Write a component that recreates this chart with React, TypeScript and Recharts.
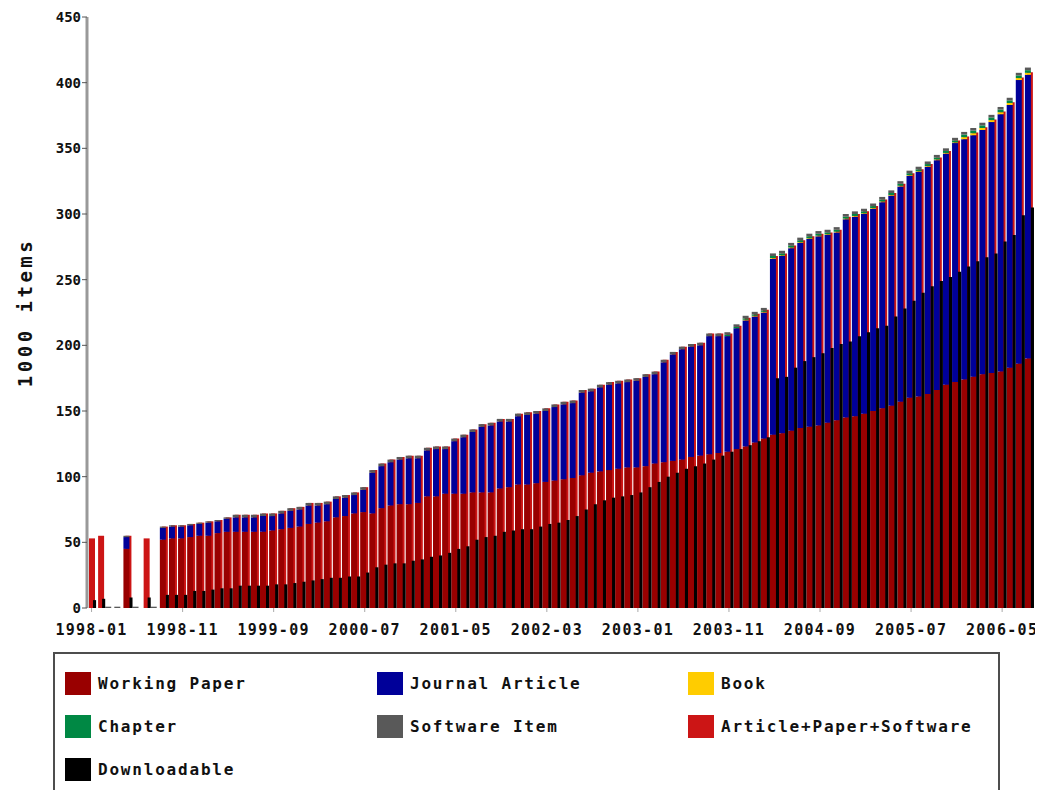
import { BarChart, Bar, XAxis, YAxis } from 'recharts';

// months 1998-01 .. 2006-08
const months = [
  '1998-01', '1998-02', '1998-03', '1998-04', '1998-05', '1998-06', '1998-07', '1998-08', '1998-09', '1998-10', '1998-11', '1998-12',
  '1999-01', '1999-02', '1999-03', '1999-04', '1999-05', '1999-06', '1999-07', '1999-08', '1999-09', '1999-10', '1999-11', '1999-12',
  '2000-01', '2000-02', '2000-03', '2000-04', '2000-05', '2000-06', '2000-07', '2000-08', '2000-09', '2000-10', '2000-11', '2000-12',
  '2001-01', '2001-02', '2001-03', '2001-04', '2001-05', '2001-06', '2001-07', '2001-08', '2001-09', '2001-10', '2001-11', '2001-12',
  '2002-01', '2002-02', '2002-03', '2002-04', '2002-05', '2002-06', '2002-07', '2002-08', '2002-09', '2002-10', '2002-11', '2002-12',
  '2003-01', '2003-02', '2003-03', '2003-04', '2003-05', '2003-06', '2003-07', '2003-08', '2003-09', '2003-10', '2003-11', '2003-12',
  '2004-01', '2004-02', '2004-03', '2004-04', '2004-05', '2004-06', '2004-07', '2004-08', '2004-09', '2004-10', '2004-11', '2004-12',
  '2005-01', '2005-02', '2005-03', '2005-04', '2005-05', '2005-06', '2005-07', '2005-08', '2005-09', '2005-10', '2005-11', '2005-12',
  '2006-01', '2006-02', '2006-03', '2006-04', '2006-05', '2006-06', '2006-07', '2006-08',
];

// values in 1000 items
const workingPaper = [
  0, 0, 0, 0, 45, 0, 0, 0, 52, 53, 53, 54,
  55, 55, 57, 58, 58, 58, 58, 58, 59, 60, 61, 62,
  64, 65, 66, 69, 70, 72, 73, 72, 76, 78, 79, 79,
  80, 85, 85, 87, 87, 87, 88, 88, 88, 91, 92, 94,
  94, 95, 96, 97, 98, 99, 101, 103, 104, 105, 106, 107,
  107, 108, 110, 111, 112, 113, 115, 116, 117, 118, 119, 121,
  123, 126, 129, 132, 133, 135, 137, 138, 139, 141, 143, 145,
  146, 148, 150, 152, 154, 157, 160, 161, 163, 166, 170, 172,
  174, 176, 178, 179, 180, 183, 186, 190,
];
const journalArticle = [
  0, 0, 0, 0, 9, 0, 0, 0, 9, 9, 9, 9,
  9, 10, 9, 10, 11, 11, 11, 12, 11, 12, 13, 13,
  14, 13, 13, 14, 14, 14, 17, 31, 32, 33, 34, 35,
  34, 35, 36, 34, 40, 43, 46, 50, 51, 51, 50, 52,
  53, 53, 54, 56, 57, 57, 63, 62, 64, 65, 65, 65,
  66, 68, 68, 76, 81, 84, 84, 84, 90, 89, 88, 92,
  96, 96, 96, 134, 135, 139, 141, 143, 144, 143, 143, 151,
  152, 152, 154, 157, 160, 164, 169, 171, 173, 175, 176, 182,
  183, 184, 186, 191, 196, 200, 216, 216,
];
const book = [
  0, 0, 0, 0, 0, 0, 0, 0, 0, 0, 0, 0,
  0, 0, 0, 0, 0, 0, 0, 0, 0, 0, 0, 0,
  0, 0, 0, 0, 0, 0, 0, 0, 0, 0, 0, 0,
  0, 0, 0, 0, 0, 0, 0, 0, 0, 0, 0, 0,
  0, 0, 0, 0, 0, 0, 0, 0, 0, 0, 0, 0,
  0, 0, 0, 0, 0, 0, 0, 0, 0, 0, 0, 0,
  0.5, 0.5, 0.5, 0.5, 0.5, 0.5, 0.5, 0.5, 0.5, 0.5, 0.5, 0.5,
  0.5, 0.5, 0.5, 0.5, 0.5, 0.5, 0.5, 0.5, 0.5, 0.5, 0.5, 0.5,
  1.5, 1.5, 1.5, 1.5, 1.5, 1.5, 1.5, 1.5,
];
const chapter = [
  0, 0, 0, 0, 0, 0, 0, 0, 0, 0, 0, 0,
  0, 0, 0, 0, 0, 0, 0, 0, 0, 0, 0, 0,
  0, 0, 0, 0, 0, 0, 0, 0, 0, 0, 0, 0,
  0, 0, 0, 0, 0, 0, 0, 0, 0, 0, 0, 0,
  0, 0, 0, 0, 0, 0, 0, 0, 0, 0, 0, 0,
  0, 0, 0, 0, 0, 0, 0, 0, 0, 0, 1, 1,
  1, 1, 1, 1.5, 1.5, 1.5, 1.5, 1.5, 1.5, 1.5, 1.5, 1.5,
  1.5, 1.5, 1.5, 1.5, 1.5, 1.5, 1.5, 1.5, 1.5, 1.5, 1.5, 1.5,
  2, 2, 2, 2, 2, 2, 2, 2,
];
const software = [
  0, 0, 1, 1, 1, 1, 0, 1, 1, 1, 1, 1,
  1, 1, 1, 1, 2, 2, 2, 2, 2, 2, 2, 2,
  2, 2, 2, 2, 2, 2, 2, 2, 2, 2, 2, 2,
  2, 2, 2, 2, 2, 2, 2, 2, 2, 2, 2, 2,
  2, 2, 2, 2, 2, 2, 2, 2, 2, 2, 2, 2,
  2, 2, 2, 2, 2, 2, 2, 2, 2, 2, 2, 2,
  2, 2, 2, 2, 2, 2, 2, 2, 2, 2, 2, 2,
  2, 2, 2, 2, 2, 2, 2, 2, 2, 2, 2, 2,
  2, 2, 2, 2, 2, 2, 2, 2,
];
const articlePaperSoftware = [
  53, 55, 0, 0, 55, 0, 53, 0, 62, 63, 63, 64,
  65, 66, 67, 69, 71, 71, 71, 72, 72, 74, 76, 77,
  80, 80, 81, 85, 86, 88, 92, 105, 110, 113, 115, 116,
  116, 122, 123, 123, 129, 132, 136, 140, 141, 144, 144, 148,
  149, 150, 152, 155, 157, 158, 166, 167, 170, 172, 173, 174,
  175, 178, 180, 189, 195, 199, 201, 202, 209, 209, 209, 215,
  221, 224, 227, 268, 270, 276, 280, 283, 285, 286, 288, 298,
  300, 302, 306, 311, 316, 323, 331, 334, 338, 343, 348, 356,
  359, 362, 366, 372, 378, 385, 404, 408,
];
const downloadable = [
  6, 7, 0, 0, 8, 0, 8, 0, 10, 10, 10, 13,
  13, 14, 15, 15, 17, 17, 17, 17, 18, 18, 19, 20,
  21, 22, 23, 23, 24, 24, 27, 31, 33, 34, 34, 36,
  37, 39, 40, 42, 45, 47, 52, 54, 55, 58, 59, 60,
  60, 62, 64, 65, 67, 70, 75, 79, 82, 84, 85, 86,
  88, 92, 96, 100, 103, 106, 108, 110, 113, 116, 119, 121,
  124, 127, 130, 175, 176, 183, 188, 191, 194, 198, 201, 203,
  207, 210, 213, 215, 222, 228, 234, 240, 245, 249, 252, 256,
  260, 264, 267, 270, 279, 284, 299, 305,
];

const yTicks = [0, 50, 100, 150, 200, 250, 300, 350, 400, 450];

const legendItems = [
  { name: 'Working Paper', color: '#990000' },
  { name: 'Journal Article', color: '#000099' },
  { name: 'Book', color: '#ffcc00' },
  { name: 'Chapter', color: '#008844' },
  { name: 'Software Item', color: '#595959' },
  { name: 'Article+Paper+Software', color: '#cc1515' },
  { name: 'Downloadable', color: '#000000' },
];

const data = months.map((m, i) => ({
  month: m,
  wp: workingPaper[i],
  ja: journalArticle[i],
  book: book[i],
  chapter: chapter[i],
  software: software[i],
  aps: articlePaperSoftware[i],
  dl: downloadable[i],
}));

const FONT = '"DejaVu Sans Mono", "Liberation Mono", monospace';
const LEGEND_COLS = [10, 322, 633];

export default function App() {
  return (
    <div style={{ position: 'relative', width: 1035, height: 782, overflow: 'hidden', fontFamily: FONT }}>
      <BarChart
        width={1035}
        height={632}
        data={data}
        margin={{ top: 9, right: 9, bottom: 2, left: 0 }}
        barGap={0}
        barCategoryGap={0}
      >
        <XAxis
          dataKey="month"
          interval={9}
          height={30}
          tickSize={4}
          tickMargin={12}
          tickLine={{ stroke: '#aaaaaa' }}
          axisLine={false}
          tick={{ fontFamily: FONT, fontSize: 15, fontWeight: 'bold', fill: '#111', letterSpacing: 1.3 }}
        />
        <XAxis
          xAxisId="top"
          dataKey="month"
          orientation="top"
          height={0}
          tick={false}
          tickLine={false}
          axisLine={{ stroke: '#777777', strokeWidth: 3 }}
        />
        <YAxis
          domain={[0, 450]}
          ticks={yTicks}
          width={79}
          tickSize={5}
          tickMargin={1}
          tickLine={{ stroke: '#555555' }}
          axisLine={{ stroke: '#999999', strokeWidth: 3 }}
          tick={{ fontFamily: FONT, fontSize: 14, fontWeight: 'bold', fill: '#111' }}
          label={{
            value: '1000 items',
            angle: -90,
            position: 'insideLeft',
            offset: 17,
            style: { textAnchor: 'middle', fontFamily: FONT, fontSize: 19, fontWeight: 'bold', letterSpacing: 3.5, fill: '#111' },
          }}
        />
        <YAxis
          yAxisId="right"
          orientation="right"
          width={0}
          domain={[0, 450]}
          tick={false}
          tickLine={false}
          axisLine={{ stroke: '#555555', strokeWidth: 2 }}
        />
        <Bar xAxisId="top" dataKey="aps" fill="#cc1515" barSize={6} isAnimationActive={false} />
        <Bar dataKey="wp" stackId="s" fill="#990000" barSize={6} isAnimationActive={false} />
        <Bar dataKey="ja" stackId="s" fill="#000099" barSize={6} isAnimationActive={false} />
        <Bar dataKey="book" stackId="s" fill="#ffcc00" barSize={6} isAnimationActive={false} />
        <Bar dataKey="chapter" stackId="s" fill="#008844" barSize={6} isAnimationActive={false} />
        <Bar dataKey="software" stackId="s" fill="#595959" barSize={6} isAnimationActive={false} />
        <Bar dataKey="dl" fill="#000000" barSize={3.1} isAnimationActive={false} />
      </BarChart>

      {/* legend box, cut off at the bottom like the original */}
      <div
        style={{
          position: 'absolute',
          left: 45,
          top: 644,
          width: 943,
          height: 136,
          border: '2px solid #4d4d4d',
          borderBottom: 'none',
          background: '#fff',
        }}
      >
        {legendItems.map((it, i) => (
          <div
            key={it.name}
            style={{
              position: 'absolute',
              left: LEGEND_COLS[i % 3],
              top: 18 + Math.floor(i / 3) * 43,
              display: 'flex',
              alignItems: 'center',
              height: 23,
            }}
          >
            <span style={{ display: 'inline-block', width: 26, height: 23, background: it.color }} />
            <span style={{ marginLeft: 7, fontSize: 16, fontWeight: 'bold', letterSpacing: 1.8, color: '#111' }}>
              {it.name}
            </span>
          </div>
        ))}
      </div>
    </div>
  );
}
